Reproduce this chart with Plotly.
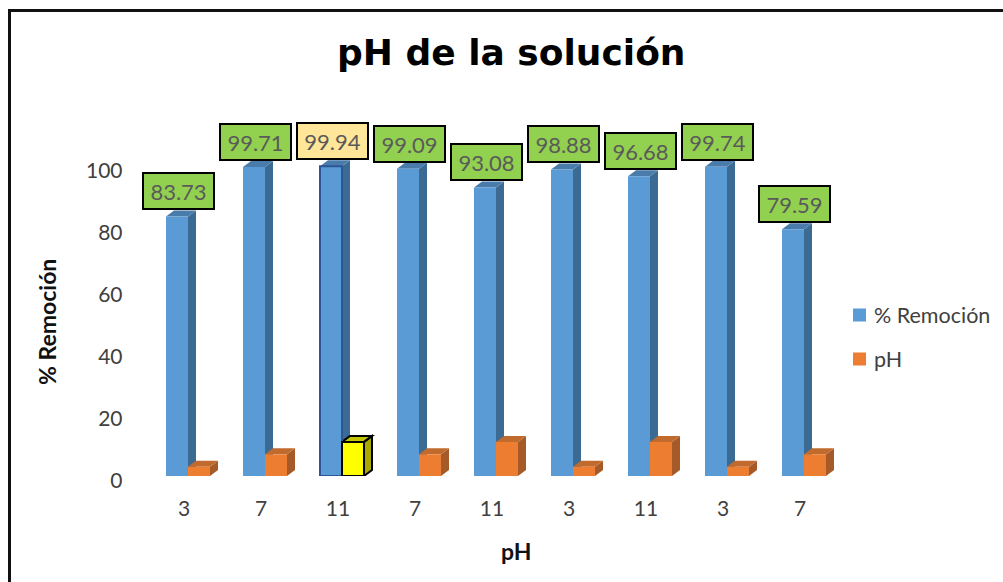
import plotly.graph_objects as go

# ---------- Data ----------
ph_labels = ["3", "7", "11", "7", "11", "3", "11", "3", "7"]
removal = [83.73, 99.71, 99.94, 99.09, 93.08, 98.88, 96.68, 99.74, 79.59]
ph_values = [3, 7, 11, 7, 11, 3, 11, 3, 7]
highlight = 2
positions = list(range(len(ph_labels)))

# ---------- Geometry of the fake 3D look ----------
W, H = 1003, 582
PX_X = 77.0          # pixels per category
PX_Y = 3.1           # pixels per % unit
BOTTOM, TOP = 476, 100
LEFT = 145.5
DX = 8 / PX_X
DY = 6 / PX_Y
BAR_W = 22 / PX_X
BLUE_OFF = -18 / PX_X
ORANGE_OFF = BLUE_OFF + BAR_W


def side_path(x0, v):
    x1 = x0 + BAR_W
    return f"M {x1} 0 L {x1 + DX} {DY} L {x1 + DX} {v + DY} L {x1} {v} Z"


def top_path(x0, v):
    x1 = x0 + BAR_W
    return f"M {x0} {v} L {x0 + DX} {v + DY} L {x1 + DX} {v + DY} L {x1} {v} Z"


def face(path, color, line=None):
    return dict(type="path", path=path, xref="x", yref="y", layer="below",
                fillcolor=color, line=dict(color=line or color, width=2 if line else 0))


def paper_text(x, y, text, size, color="#111111", angle=0, xanchor="center", family="Lato"):
    return dict(x=x / W, y=1 - y / H, xref="paper", yref="paper", text=text, showarrow=False,
                xanchor=xanchor, yanchor="middle", textangle=angle,
                font=dict(family=family, size=size, color=color))


def legend_swatch(x, y, color):
    return dict(type="rect", xref="paper", yref="paper", x0=x / W, x1=(x + 13) / W,
                y0=1 - (y + 6.5) / H, y1=1 - (y - 6.5) / H, fillcolor=color, line=dict(width=0))


shapes = []
for p, v in zip(positions, removal):
    x0 = p + BLUE_OFF
    shapes.append(face(side_path(x0, v), "#3B6A92"))
    shapes.append(face(top_path(x0, v), "#4A7CAB"))
for p, v in zip(positions, ph_values):
    x0 = p + ORANGE_OFF
    if p == highlight:
        shapes.append(face(side_path(x0, v), "#A9A900", "black"))
        shapes.append(face(top_path(x0, v), "#C4C400", "black"))
    else:
        shapes.append(face(side_path(x0, v), "#A65A28"))
        shapes.append(face(top_path(x0, v), "#C06A2E"))

# outer border of the picture
shapes.append(dict(type="line", xref="paper", yref="paper", x0=9.5 / W, x1=9.5 / W, y0=0, y1=1 - 10.5 / H,
                   line=dict(color="#111111", width=3)))
shapes.append(dict(type="line", xref="paper", yref="paper", x0=8 / W, x1=1, y0=1 - 10.5 / H, y1=1 - 10.5 / H,
                   line=dict(color="#111111", width=3)))
shapes.append(legend_swatch(853, 315, "#5B9BD5"))
shapes.append(legend_swatch(853, 359, "#ED7D31"))

fig = go.Figure()
fig.add_trace(go.Bar(
    x=positions, y=removal, name="% Remoción", width=BAR_W, offset=BLUE_OFF,
    marker=dict(color="#5B9BD5",
                line=dict(color=["#2F5597" if i == highlight else "#5B9BD5" for i in positions],
                          width=[2 if i == highlight else 0 for i in positions])),
))
fig.add_trace(go.Bar(
    x=positions, y=ph_values, name="pH", width=BAR_W, offset=ORANGE_OFF,
    marker=dict(color=["#FFFF00" if i == highlight else "#ED7D31" for i in positions],
                line=dict(color=["black" if i == highlight else "#ED7D31" for i in positions],
                          width=[2 if i == highlight else 0 for i in positions])),
))

# data labels
annotations = []
for p, v in zip(positions, removal):
    annotations.append(dict(
        x=p, y=v, xref="x", yref="y", text=f"{v:.2f}", showarrow=False,
        xshift=-6, yshift=25, width=69, height=34,
        bgcolor="#FFE699" if p == highlight else "#92D050",
        bordercolor="black", borderwidth=2, borderpad=0,
        font=dict(family="Lato", size=22, color="#5A5A5A"),
    ))
annotations.append(paper_text(512, 52, "<b>pH de la solución</b>", 36, "black", family="DejaVu Sans"))
annotations.append(paper_text(47, 322, "<b>% Remoción</b>", 23, angle=-90))
annotations.append(paper_text(516, 551, "<b>pH</b>", 23))
annotations.append(paper_text(872, 315, "% Remoción", 21.5, "#404040", xanchor="left"))
annotations.append(paper_text(872, 359, "pH", 21.5, "#404040", xanchor="left"))

fig.update_layout(
    width=W, height=H,
    margin=dict(l=0, r=0, t=0, b=0),
    paper_bgcolor="white", plot_bgcolor="rgba(0,0,0,0)",
    barmode="overlay",
    showlegend=False,
    shapes=shapes,
    annotations=annotations,
    font=dict(family="Lato"),
)
fig.update_xaxes(
    domain=[LEFT / W, (LEFT + 9 * PX_X) / W], range=[-0.5, 8.5], automargin=False,
    tickmode="array", tickvals=positions, ticktext=ph_labels,
    showgrid=False, zeroline=False, showline=False, ticks="",
    tickfont=dict(family="Lato", size=21, color="#404040"), ticklabelstandoff=18,
)
fig.update_yaxes(
    domain=[1 - BOTTOM / H, 1 - TOP / H], range=[0, (BOTTOM - TOP) / PX_Y], automargin=False,
    tickmode="array", tickvals=[0, 20, 40, 60, 80, 100],
    showgrid=False, zeroline=False, showline=False, ticks="",
    tickfont=dict(family="Lato", size=21, color="#404040"), ticklabelstandoff=22, ticklabelshift=5,
)

fig.write_html("out.html", config=dict(displayModeBar=False),
               post_script="document.body.style.margin='0';")
